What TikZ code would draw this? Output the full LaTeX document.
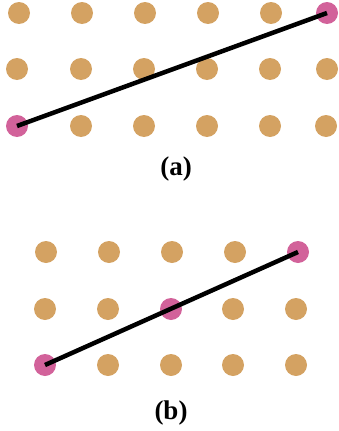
\documentclass[tikz,border=0pt]{standalone}
\usepackage{fontspec}
\setmainfont{Liberation Serif}
\definecolor{tan}{HTML}{D4A262}
\definecolor{rose}{HTML}{D2629A}
\tikzset{
  dot/.style={circle, fill=tan, draw=none, minimum size=22pt, inner sep=0pt},
  hit/.style={dot, fill=rose},
  seg/.style={line width=4.5pt, color=black},
  lab/.style={font=\fontsize{27pt}{32pt}\selectfont\bfseries, text=black},
}

\begin{document}
\begin{tikzpicture}[x=1pt, y=-1pt]
    \useasboundingbox (0,0) rectangle (338,431);
    % lattice (a)
    \foreach \x/\s [count=\i] in {19/dot,82/dot,145/dot,208/dot,271/dot,327/hit}
      \node[\s] (a-1-\i) at (\x,13) {};
    \foreach \x/\s [count=\i] in {17/dot,81/dot,144/dot,207/dot,270/dot,327/dot}
      \node[\s] (a-2-\i) at (\x,69) {};
    \foreach \x/\s [count=\i] in {17/hit,81/dot,144/dot,207/dot,270/dot,326/dot}
      \node[\s] (a-3-\i) at (\x,126) {};
    \draw[seg] (a-3-1.center) -- (a-1-6.center);
    \node[lab] (capa) at (176,169) {(a)};
    % lattice (b)
    \foreach \x/\s [count=\i] in {46/dot,109/dot,172/dot,235/dot,298/hit}
      \node[\s] (b-1-\i) at (\x,252) {};
    \foreach \x/\s [count=\i] in {45/dot,108/dot,171/hit,233/dot,296/dot}
      \node[\s] (b-2-\i) at (\x,309) {};
    \foreach \x/\s [count=\i] in {45/hit,108/dot,171/dot,233/dot,296/dot}
      \node[\s] (b-3-\i) at (\x,365) {};
    \draw[seg] (b-3-1.center) -- (b-1-5.center);
    \node[lab] (capb) at (171,413) {(b)};
\end{tikzpicture}
\end{document}
